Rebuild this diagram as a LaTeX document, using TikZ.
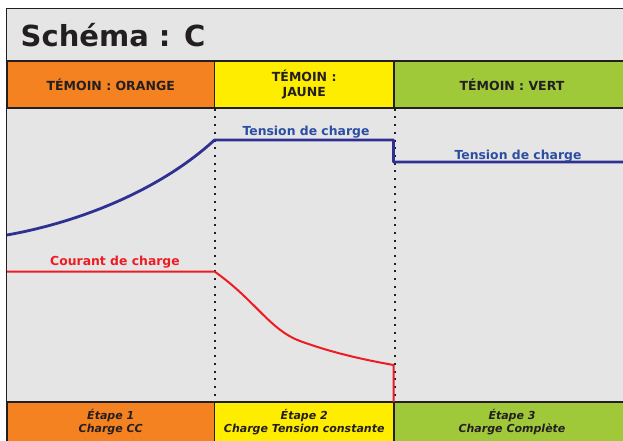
\documentclass[tikz,border=0pt]{standalone}
\usepackage{fontspec}
\setmainfont{DejaVu Sans}

\definecolor{temoinorange}{HTML}{F58220}
\definecolor{temoinjaune}{HTML}{FFED00}
\definecolor{temoinvert}{HTML}{A0C93A}
\definecolor{fond}{HTML}{E5E5E5}
\definecolor{bleutension}{HTML}{2E3192}
\definecolor{bleutexte}{HTML}{2B4EA2}
\definecolor{rougecourant}{HTML}{ED1C24}
\definecolor{encre}{HTML}{231F20}

\begin{document}
\begin{tikzpicture}[x=1pt,y=-1pt,
	cell/.style={draw=encre, line width=1.5pt, inner sep=0pt, align=center,
		text=encre, font=\bfseries\fontsize{12.5}{15}\selectfont},
	stagecell/.style={cell, font=\bfseries\itshape\fontsize{11}{12.6}\selectfont},
	curvelabel/.style={anchor=base, inner sep=0pt, font=\bfseries\fontsize{12.4}{15}\selectfont},
	repere/.style={encre, line width=2pt, dash pattern=on 2pt off 5.7pt},
]

% columns
\def\xa{7}
\def\xb{214.5}
\def\xc{394}
\def\xd{630}

% rows
\def\ytop{8.5}
\def\yhead{61}
\def\yplot{108}
\def\yfoot{402}
\def\yend{442}

% tension, courant
\def\ucc{235}
\def\umax{140}
\def\ufloat{162}
\def\icc{271.5}
\def\ifin{365}

\useasboundingbox (0,0) rectangle (623,440);

% background
\fill [white] (0,0) rectangle (623,440);
\fill [fond] (6,\ytop) rectangle (650,460);
\draw [encre, line width=1.5pt] (6.5,460) -- (6.5,\ytop) -- (650,\ytop);

\node [anchor=base west, inner sep=0pt, text=encre, font=\bfseries\fontsize{29}{35}\selectfont]
	(titre) at (20.5,46.5) {Schéma : C};

% header
\node [cell, fill=temoinorange, minimum width={(\xb-\xa)*1pt}, minimum height={(\yplot-\yhead)*1pt}]
	(hOrange) at ({(\xa+\xb)/2},{(\yhead+\yplot)/2}) {TÉMOIN : ORANGE};
\node [cell, fill=temoinjaune, minimum width={(\xc-\xb)*1pt}, minimum height={(\yplot-\yhead)*1pt}]
	(hJaune) at ({(\xb+\xc)/2},{(\yhead+\yplot)/2}) {TÉMOIN :\\JAUNE};
\node [cell, fill=temoinvert, minimum width={(\xd-\xc)*1pt}, minimum height={(\yplot-\yhead)*1pt}]
	(hVert) at ({(\xc+\xd)/2},{(\yhead+\yplot)/2}) {TÉMOIN : VERT};

% footer
\node [stagecell, fill=temoinorange, minimum width={(\xb-\xa)*1pt}, minimum height={(\yend-\yfoot)*1pt}]
	(fOrange) at ({(\xa+\xb)/2},{(\yfoot+\yend)/2}) {Étape 1\\Charge CC};
\node [stagecell, fill=temoinjaune, minimum width={(\xc-\xb)*1pt}, minimum height={(\yend-\yfoot)*1pt}]
	(fJaune) at ({(\xb+\xc)/2},{(\yfoot+\yend)/2}) {Étape 2\\Charge Tension constante};
\node [stagecell, fill=temoinvert, minimum width={(\xd-\xc)*1pt}, minimum height={(\yend-\yfoot)*1pt}]
	(fVert) at ({(\xc+\xd)/2},{(\yfoot+\yend)/2}) {Étape 3\\Charge Complète};

% stage limits
\draw [repere] (hOrange.south east) -- (fOrange.north east);
\draw [repere] (hJaune.south east) -- (fJaune.north east);

% curves
\draw [bleutension, line width=2.8pt, line join=round]
	(\xa,\ucc) .. controls (80,222) and (160,190) .. (\xb,\umax)
	-- (393.5,\umax) -- (393.5,\ufloat) -- (650,\ufloat);
\draw [rougecourant, line width=2pt, line join=round]
	(\xa,\icc) -- (\xb,\icc)
	.. controls (255,300) and (270,330) .. (300,341)
	.. controls (330,352) and (360,359) .. (393.5,\ifin) -- (393.5,\yfoot);

% labels
\node [curvelabel, text=bleutexte] (tension1) at (306,135) {Tension de charge};
\node [curvelabel, text=bleutexte] (tension2) at (518,159) {Tension de charge};
\node [curvelabel, text=rougecourant] (courant1) at (115,265.5) {Courant de charge};

\end{tikzpicture}
\end{document}
